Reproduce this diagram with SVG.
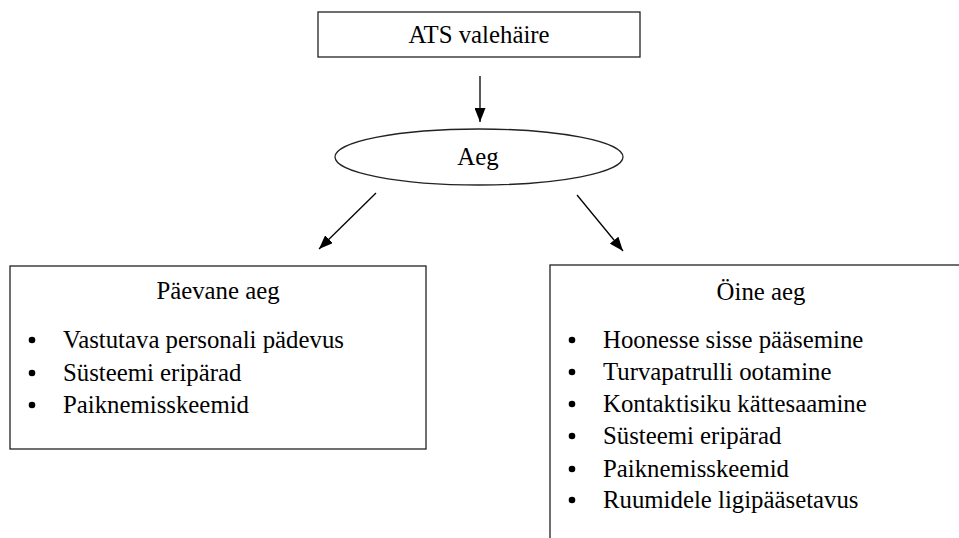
<svg xmlns="http://www.w3.org/2000/svg" width="959" height="538" viewBox="0 0 959 538">
<style>
.box{fill:#fff;stroke:#222;stroke-width:1.3}
.t{font-family:"Liberation Serif","Times New Roman",serif;font-size:24.8px;fill:#000}
.c{text-anchor:middle}
.conn{stroke:#000;stroke-width:1.3;fill:none}
.dot{fill:#000}
</style>
<defs>
<marker id="ah" viewBox="0 0 14 11" refX="14" refY="5.5" markerWidth="14" markerHeight="11" markerUnits="userSpaceOnUse" orient="auto">
<path d="M0,0 L14,5.5 L0,11 Z" fill="#000"/>
</marker>
</defs>
<rect width="959" height="538" fill="#fff"/>
<g id="connectors">
<line class="conn" x1="480" y1="76" x2="480" y2="122" marker-end="url(#ah)"/>
<line class="conn" x1="376" y1="193" x2="319" y2="249" marker-end="url(#ah)"/>
<line class="conn" x1="577" y1="195" x2="623" y2="251" marker-end="url(#ah)"/>
</g>
<g id="ats">
<rect class="box" x="318" y="12" width="322" height="45"/>
<text class="t c" x="479" y="43">ATS valehäire</text>
</g>
<g id="aeg">
<ellipse class="box" cx="479" cy="157" rx="144" ry="28"/>
<text class="t c" x="478" y="165">Aeg</text>
</g>
<g id="paevane">
<rect class="box" x="10" y="266" width="416" height="183"/>
<text class="t c" x="218" y="299">Päevane aeg</text>
<circle class="dot" cx="32" cy="340" r="3.3"/>
<text class="t" x="63" y="348">Vastutava personali pädevus</text>
<circle class="dot" cx="32" cy="373" r="3.3"/>
<text class="t" x="63" y="381">Süsteemi eripärad</text>
<circle class="dot" cx="32" cy="405" r="3.3"/>
<text class="t" x="63" y="413">Paiknemisskeemid</text>
</g>
<g id="oine">
<rect class="box" x="550" y="265" width="422" height="300"/>
<text class="t c" x="761" y="300">Öine aeg</text>
<circle class="dot" cx="572" cy="340" r="3.3"/>
<text class="t" x="603" y="348">Hoonesse sisse pääsemine</text>
<circle class="dot" cx="572" cy="372" r="3.3"/>
<text class="t" x="603" y="380">Turvapatrulli ootamine</text>
<circle class="dot" cx="572" cy="404" r="3.3"/>
<text class="t" x="603" y="412">Kontaktisiku kättesaamine</text>
<circle class="dot" cx="572" cy="436" r="3.3"/>
<text class="t" x="603" y="444">Süsteemi eripärad</text>
<circle class="dot" cx="572" cy="469" r="3.3"/>
<text class="t" x="603" y="477">Paiknemisskeemid</text>
<circle class="dot" cx="572" cy="500" r="3.3"/>
<text class="t" x="603" y="508">Ruumidele ligipääsetavus</text>
</g>
</svg>
